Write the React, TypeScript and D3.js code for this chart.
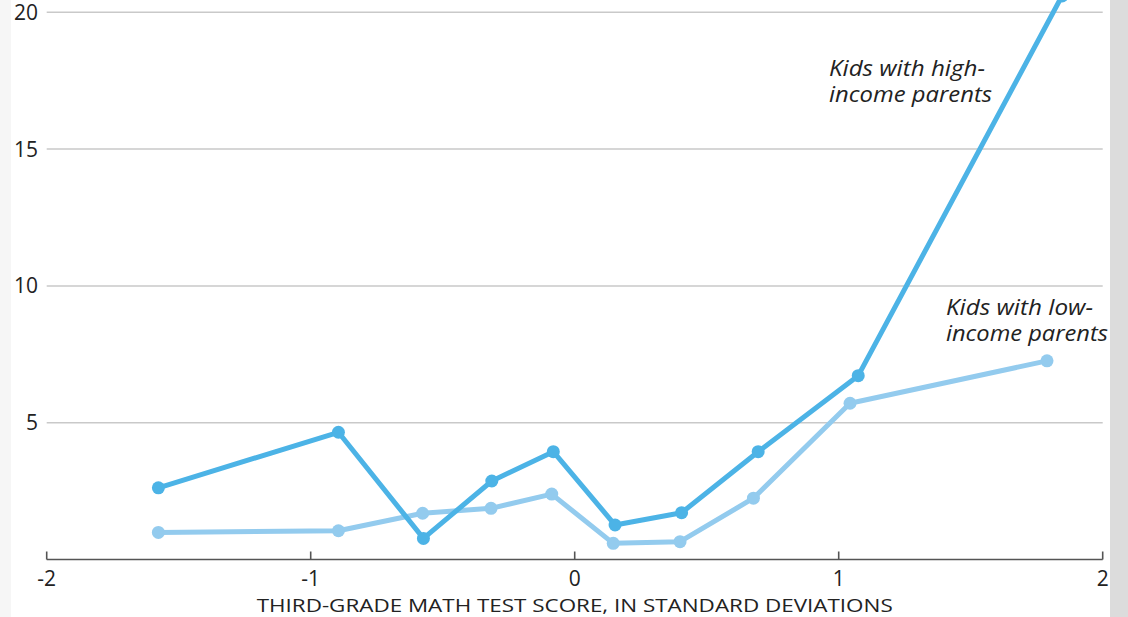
import { useEffect, useRef } from 'react'
import * as d3 from 'd3'

const W = 1128
const H = 617

const highX = [-1.577, -0.895, -0.573, -0.314, -0.081, 0.153, 0.405, 0.695, 1.074, 1.846]
const highY = [2.62, 4.65, 0.77, 2.87, 3.94, 1.26, 1.71, 3.94, 6.72, 20.6]
const lowX = [-1.577, -0.895, -0.576, -0.317, -0.087, 0.146, 0.399, 0.677, 1.043, 1.789]
const lowY = [0.99, 1.05, 1.69, 1.87, 2.39, 0.59, 0.65, 2.24, 5.71, 7.26]

const xTicks = [-2, -1, 0, 1, 2]
const yTicks = [5, 10, 15, 20]
const highLabel = ['Kids with high-', 'income parents']
const lowLabel = ['Kids with low-', 'income parents']
const xTitle = 'THIRD-GRADE MATH TEST SCORE, IN STANDARD DEVIATIONS'

const HIGH_COLOR = '#4cb3e6'
const LOW_COLOR = '#93cbee'

export default function App() {
  const svgRef = useRef<SVGSVGElement | null>(null)

  useEffect(() => {
    const svgEl = svgRef.current
    if (!svgEl) return
    const svg = d3.select(svgEl)
    svg.selectAll('*').remove()

    const x = d3.scaleLinear().domain([-2, 2]).range([46.7, 1102.7])
    const y = d3.scaleLinear().domain([0, 20]).range([559.5, 12.3])

    const font = "'Open Sans', 'Noto Sans', sans-serif"

    // background pieces
    svg.append('rect').attr('x', 0).attr('y', 0).attr('width', W).attr('height', H).attr('fill', '#ffffff')
    svg.append('rect').attr('x', 0).attr('y', 0).attr('width', 11).attr('height', H).attr('fill', '#f6f6f6')
    svg.append('rect').attr('x', 1110).attr('y', 0).attr('width', W - 1110).attr('height', H).attr('fill', '#dcdcdc')

    // grid + y labels
    const grid = svg.append('g')
    yTicks.forEach((t) => {
      grid
        .append('line')
        .attr('x1', x(-2))
        .attr('x2', x(2))
        .attr('y1', y(t))
        .attr('y2', y(t))
        .attr('stroke', '#c9c9c9')
        .attr('stroke-width', 1.5)
      grid
        .append('text')
        .attr('x', 38)
        .attr('y', y(t))
        .attr('dy', '0.36em')
        .attr('text-anchor', 'end')
        .attr('font-family', font)
        .attr('font-size', 21)
        .attr('fill', '#222')
        .text(t)
    })

    // x axis
    const ax = svg.append('g')
    ax.append('line')
      .attr('x1', x(-2))
      .attr('x2', x(2))
      .attr('y1', y(0))
      .attr('y2', y(0))
      .attr('stroke', '#555')
      .attr('stroke-width', 1.6)
    xTicks.forEach((t) => {
      ax.append('line')
        .attr('x1', x(t))
        .attr('x2', x(t))
        .attr('y1', y(0))
        .attr('y2', y(0) - 8)
        .attr('stroke', '#555')
        .attr('stroke-width', 1.6)
      ax.append('text')
        .attr('x', x(t))
        .attr('y', 586)
        .attr('text-anchor', 'middle')
        .attr('font-family', font)
        .attr('font-size', 21)
        .attr('fill', '#222')
        .text(t)
    })
    ax.append('text')
      .attr('x', x(0))
      .attr('y', 612)
      .attr('text-anchor', 'middle')
      .attr('font-family', font)
      .attr('font-size', 19)
      .attr('fill', '#222')
      .attr('textLength', 636)
      .attr('lengthAdjust', 'spacingAndGlyphs')
      .text(xTitle)

    const line = d3
      .line<[number, number]>()
      .x((d) => x(d[0]))
      .y((d) => y(d[1]))

    const series = [
      { xs: lowX, ys: lowY, color: LOW_COLOR },
      { xs: highX, ys: highY, color: HIGH_COLOR },
    ]
    series.forEach((s) => {
      const pts: [number, number][] = s.xs.map((v, i) => [v, s.ys[i]])
      svg.append('path')
        .attr('d', line(pts) ?? '')
        .attr('fill', 'none')
        .attr('stroke', s.color)
        .attr('stroke-width', 5)
        .attr('stroke-linejoin', 'round')
      svg.append('g')
        .selectAll('circle')
        .data(pts)
        .enter()
        .append('circle')
        .attr('cx', (d) => x(d[0]))
        .attr('cy', (d) => y(d[1]))
        .attr('r', 6.5)
        .attr('fill', s.color)
    })

    // annotations, widths matched to the reference
    const addLabel = (lines: string[], widths: number[], lx: number, ly: number) => {
      const t = svg
        .append('text')
        .attr('font-family', font)
        .attr('font-style', 'italic')
        .attr('font-size', 22)
        .attr('fill', '#222')
      lines.forEach((l, i) => {
        t.append('tspan')
          .attr('x', lx)
          .attr('y', ly + i * 26)
          .attr('textLength', widths[i])
          .attr('lengthAdjust', 'spacingAndGlyphs')
          .text(l)
      })
    }
    addLabel(highLabel, [156, 163], 829, 76)
    addLabel(lowLabel, [147, 162], 946, 315)
  }, [])

  return (
    <svg
      ref={svgRef}
      width={W}
      height={H}
      style={{ position: 'fixed', left: 0, top: 0, display: 'block' }}
    />
  )
}
